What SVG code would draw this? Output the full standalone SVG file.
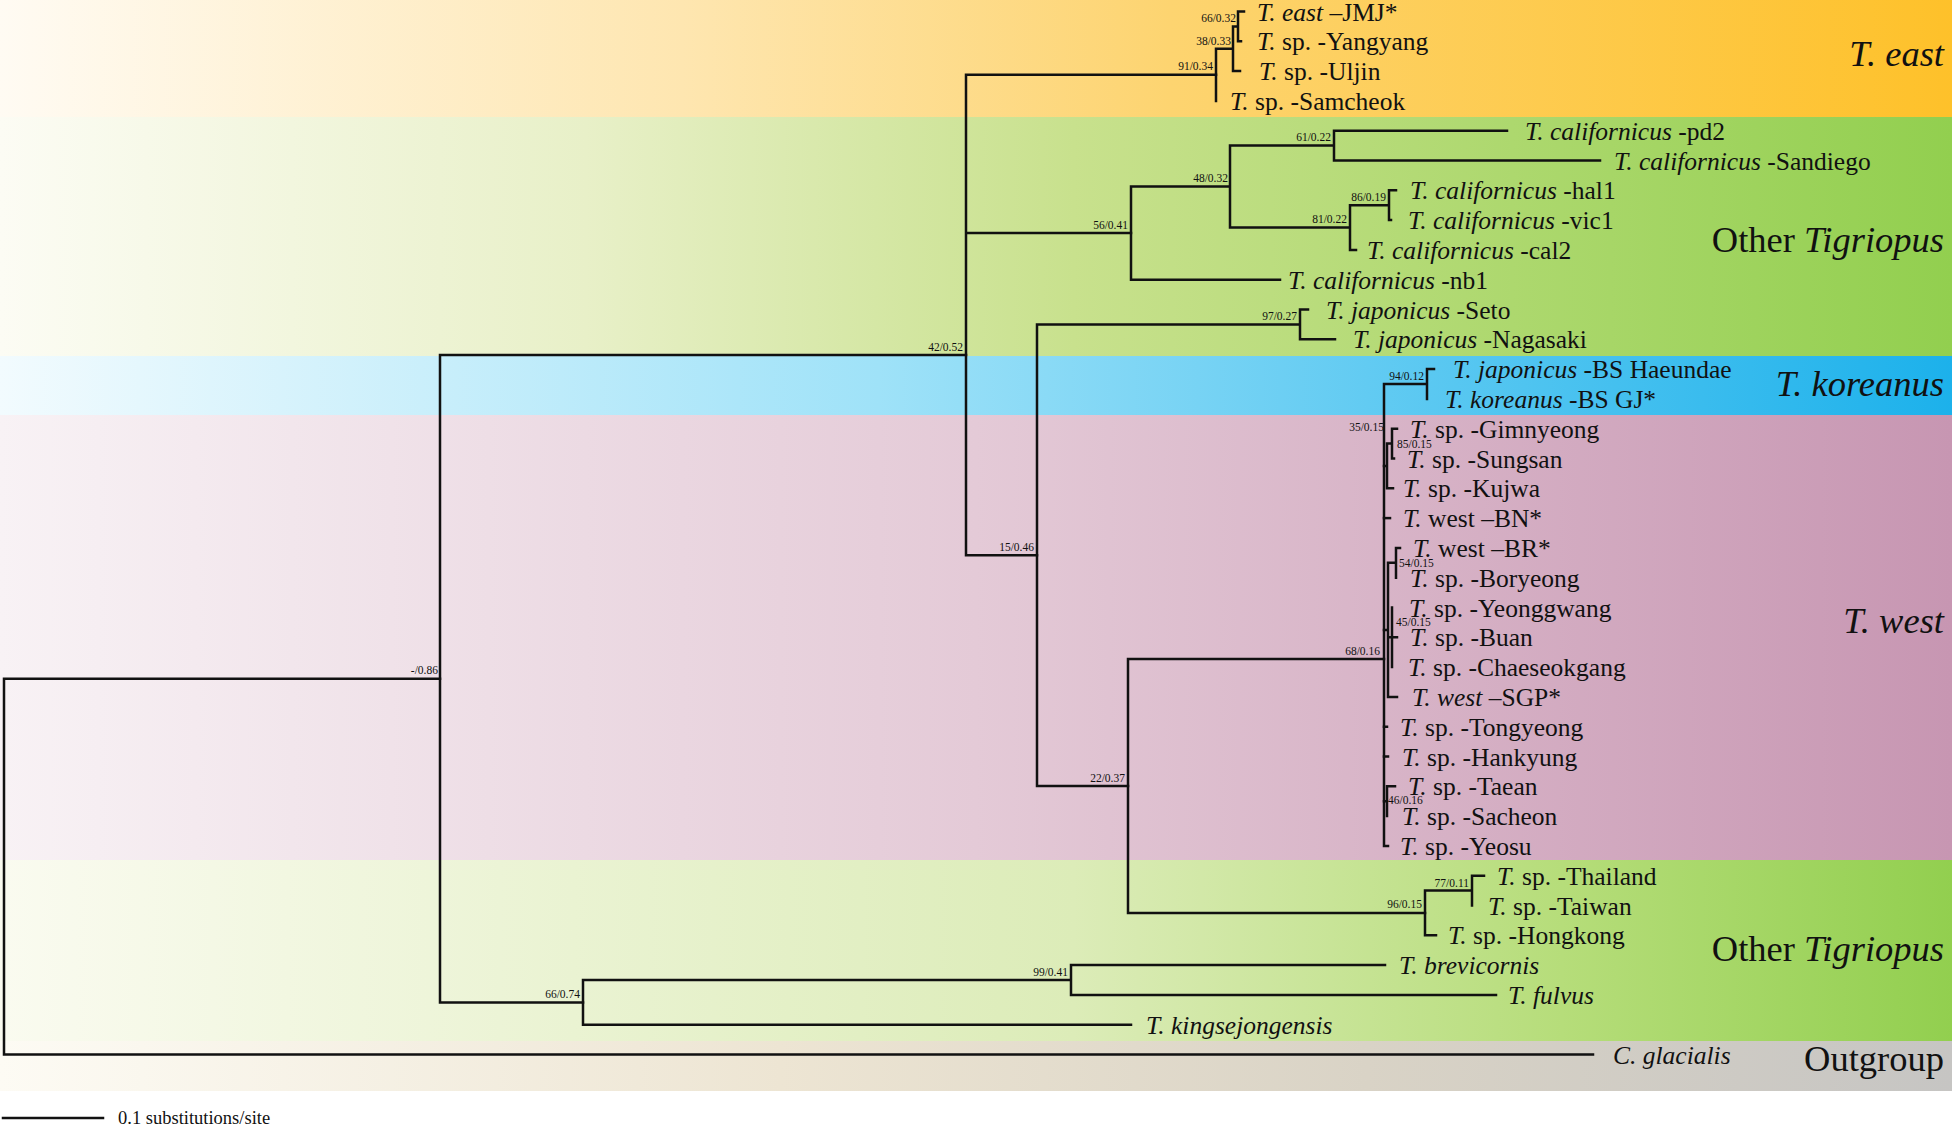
<svg xmlns="http://www.w3.org/2000/svg" width="1955" height="1128" viewBox="0 0 1955 1128">
<style>
text{font-family:"Liberation Serif","Times New Roman",serif;fill:#111;}
.lf{font-size:25.5px;}
.it{font-style:italic;}
.sp{font-size:11.5px;}
.bd{font-size:36.5px;text-anchor:end;}
.br{fill:none;stroke:#111;stroke-width:2.5;stroke-linecap:square;}
</style>
<defs>
<linearGradient id="gOr" x1="0" y1="0" x2="1" y2="0">
<stop offset="0" stop-color="#fffbf3"/><stop offset="0.35" stop-color="#fee6b0"/><stop offset="0.6" stop-color="#fdd470"/><stop offset="1" stop-color="#fec12a"/>
</linearGradient>
<linearGradient id="gGr" x1="0" y1="0" x2="1" y2="0">
<stop offset="0" stop-color="#fcfcf4"/><stop offset="0.3" stop-color="#e8f0c8"/><stop offset="0.55" stop-color="#c8e18d"/><stop offset="1" stop-color="#92cf4f"/>
</linearGradient>
<linearGradient id="gBl" x1="0" y1="0" x2="1" y2="0">
<stop offset="0" stop-color="#f2fbfe"/><stop offset="0.45" stop-color="#9fe2f8"/><stop offset="0.7" stop-color="#62cbf2"/><stop offset="1" stop-color="#1cb1eb"/>
</linearGradient>
<linearGradient id="gPk" x1="0" y1="0" x2="1" y2="0">
<stop offset="0" stop-color="#f8f2f5"/><stop offset="0.5" stop-color="#e4cad7"/><stop offset="1" stop-color="#c796b2"/>
</linearGradient>
<linearGradient id="gGr2" x1="0" y1="0" x2="1" y2="0">
<stop offset="0" stop-color="#fafbf0"/><stop offset="0.55" stop-color="#dcecb8"/><stop offset="0.8" stop-color="#b6dd7a"/><stop offset="1" stop-color="#92cf4f"/>
</linearGradient>
<linearGradient id="gGy" x1="0" y1="0" x2="1" y2="0">
<stop offset="0" stop-color="#fdfbf4"/><stop offset="0.4" stop-color="#ede5d3"/><stop offset="0.7" stop-color="#d9d3c6"/><stop offset="1" stop-color="#c6c5c3"/>
</linearGradient>
</defs>
<rect width="1955" height="1128" fill="#ffffff"/>
<g id="bands">
<rect x="0" y="0" width="1952" height="117" fill="url(#gOr)"/>
<rect x="0" y="117" width="1952" height="239" fill="url(#gGr)"/>
<rect x="0" y="356" width="1952" height="59" fill="url(#gBl)"/>
<rect x="0" y="415" width="1952" height="445" fill="url(#gPk)"/>
<rect x="0" y="860" width="1952" height="181" fill="url(#gGr2)"/>
<rect x="0" y="1041" width="1952" height="50" fill="url(#gGy)"/>
</g>
<g id="connectors" class="br">
<path d="M4,678.7 V1054.5 H1593 M4,678.7 H440"/>
<path d="M440,355 V1002.4 M440,355 H966 M440,1002.4 H583"/>
<path d="M583,980 V1024.7 H1131 M583,980 H1071 M1071,965.1 V994.9 M1071,965.1 H1385 M1071,994.9 H1496"/>
<path d="M966,74.8 V555.2 M966,74.8 H1216 M966,233.1 H1131 M966,555.2 H1037"/>
<path d="M1216,48.8 V100.9 M1216,48.8 H1233 M1233,26.4 V71.1 H1240 M1233,26.4 H1238 M1238,11.5 V41.3 M1238,11.5 H1244 M1238,41.3 H1241"/>
<path d="M1131,186.6 V279.7 H1280 M1131,186.6 H1230 M1230,145.6 V227.5 M1230,145.6 H1334 M1230,227.5 H1350 M1334,130.7 V160.5 M1334,130.7 H1507 M1334,160.5 H1600 M1350,205.2 V249.9 H1356 M1350,205.2 H1389 M1389,190.3 V220.1 M1389,190.3 H1396 M1389,220.1 H1391"/>
<path d="M1037,324.4 V786 M1037,324.4 H1300 M1037,786 H1128 M1300,309.5 V339.3 M1300,309.5 H1308 M1300,339.3 H1335"/>
<path d="M1128,659 V913 M1128,659 H1384 M1128,913 H1425"/>
<path d="M1425,890.6 V935.3 H1436 M1425,890.6 H1472 M1472,875.7 V905.5 M1472,875.7 H1484"/>
<path d="M1384,384 V845.9 H1388 M1384,384 H1427 M1427,369.1 V398.9 M1427,369.1 H1434"/>
<path d="M1384,466 H1387 M1387,443.6 V488.3 H1393 M1387,443.6 H1392 M1392,428.7 V458.5 M1392,428.7 H1397 M1392,458.5 H1394"/>
<path d="M1384,518.1 H1390"/>
<path d="M1384,630 H1388 M1388,562.8 V696.9 H1397 M1388,562.8 H1396 M1396,547.9 V577.7 M1396,547.9 H1400 M1388,637.3 H1392 M1392,607.5 V667.1 M1392,637.3 H1397"/>
<path d="M1384,726.7 H1387 M1384,756.5 H1388 M1384,801.2 H1387 M1387,786.3 V816.1 M1387,786.3 H1395"/>
<path d="M3,1118 H103"/>
</g>
<g id="support-values" class="sp">
<g id="s-86"><text x="438" y="674" text-anchor="end">-/0.86</text></g>
<g id="s-42"><text x="963" y="351" text-anchor="end">42/0.52</text></g>
<g id="s-66a"><text x="580" y="998" text-anchor="end">66/0.74</text></g>
<g id="s-99"><text x="1068" y="976" text-anchor="end">99/0.41</text></g>
<g id="s-91"><text x="1213" y="70" text-anchor="end">91/0.34</text></g>
<g id="s-38"><text x="1231" y="45" text-anchor="end">38/0.33</text></g>
<g id="s-66b"><text x="1236" y="22" text-anchor="end">66/0.32</text></g>
<g id="s-56"><text x="1128" y="229" text-anchor="end">56/0.41</text></g>
<g id="s-48"><text x="1228" y="182" text-anchor="end">48/0.32</text></g>
<g id="s-61"><text x="1331" y="141" text-anchor="end">61/0.22</text></g>
<g id="s-81"><text x="1347" y="223" text-anchor="end">81/0.22</text></g>
<g id="s-86b"><text x="1386" y="201" text-anchor="end">86/0.19</text></g>
<g id="s-97"><text x="1297" y="320" text-anchor="end">97/0.27</text></g>
<g id="s-15"><text x="1034" y="551" text-anchor="end">15/0.46</text></g>
<g id="s-22"><text x="1125" y="782" text-anchor="end">22/0.37</text></g>
<g id="s-94"><text x="1424" y="380" text-anchor="end">94/0.12</text></g>
<g id="s-35"><text x="1384" y="431" text-anchor="end">35/0.15</text></g>
<g id="s-85"><text x="1397" y="448">85/0.15</text></g>
<g id="s-54"><text x="1399" y="567">54/0.15</text></g>
<g id="s-45"><text x="1396" y="626">45/0.15</text></g>
<g id="s-68"><text x="1380" y="655" text-anchor="end">68/0.16</text></g>
<g id="s-46"><text x="1388" y="804">46/0.16</text></g>
<g id="s-96"><text x="1422" y="908" text-anchor="end">96/0.15</text></g>
<g id="s-77"><text x="1469" y="887" text-anchor="end">77/0.11</text></g>
</g>
<g id="leaves" class="lf">
<g id="l-jmj"><text x="1257" y="20.5"><tspan class="it">T. east</tspan> –JMJ*</text></g>
<g id="l-yangyang"><text x="1257" y="50.3"><tspan class="it">T.</tspan> sp. -Yangyang</text></g>
<g id="l-uljin"><text x="1259" y="80.1"><tspan class="it">T.</tspan> sp. -Uljin</text></g>
<g id="l-samcheok"><text x="1230" y="109.9"><tspan class="it">T.</tspan> sp. -Samcheok</text></g>
<g id="l-pd2"><text x="1525" y="139.7"><tspan class="it">T. californicus</tspan> -pd2</text></g>
<g id="l-sandiego"><text x="1614" y="169.5"><tspan class="it">T. californicus</tspan> -Sandiego</text></g>
<g id="l-hal1"><text x="1410" y="199.3"><tspan class="it">T. californicus</tspan> -hal1</text></g>
<g id="l-vic1"><text x="1408" y="229.1"><tspan class="it">T. californicus</tspan> -vic1</text></g>
<g id="l-cal2"><text x="1367" y="258.9"><tspan class="it">T. californicus</tspan> -cal2</text></g>
<g id="l-nb1"><text x="1288" y="288.7"><tspan class="it">T. californicus</tspan> -nb1</text></g>
<g id="l-seto"><text x="1326" y="318.5"><tspan class="it">T. japonicus</tspan> -Seto</text></g>
<g id="l-nagasaki"><text x="1353" y="348.3"><tspan class="it">T. japonicus</tspan> -Nagasaki</text></g>
<g id="l-haeundae"><text x="1453" y="378.1"><tspan class="it">T. japonicus</tspan> -BS Haeundae</text></g>
<g id="l-gj"><text x="1445" y="407.9"><tspan class="it">T. koreanus</tspan> -BS GJ*</text></g>
<g id="l-gimnyeong"><text x="1410" y="437.7"><tspan class="it">T.</tspan> sp. -Gimnyeong</text></g>
<g id="l-sungsan"><text x="1407" y="467.5"><tspan class="it">T.</tspan> sp. -Sungsan</text></g>
<g id="l-kujwa"><text x="1403" y="497.3"><tspan class="it">T.</tspan> sp. -Kujwa</text></g>
<g id="l-bn"><text x="1403" y="527.1"><tspan class="it">T.</tspan> west –BN*</text></g>
<g id="l-br"><text x="1413" y="556.9"><tspan class="it">T.</tspan> west –BR*</text></g>
<g id="l-boryeong"><text x="1410" y="586.7"><tspan class="it">T.</tspan> sp. -Boryeong</text></g>
<g id="l-yeonggwang"><text x="1409" y="616.5"><tspan class="it">T.</tspan> sp. -Yeonggwang</text></g>
<g id="l-buan"><text x="1410" y="646.3"><tspan class="it">T.</tspan> sp. -Buan</text></g>
<g id="l-chaeseokgang"><text x="1408" y="676.1"><tspan class="it">T.</tspan> sp. -Chaeseokgang</text></g>
<g id="l-sgp"><text x="1412" y="705.9"><tspan class="it">T. west</tspan> –SGP*</text></g>
<g id="l-tongyeong"><text x="1400" y="735.7"><tspan class="it">T.</tspan> sp. -Tongyeong</text></g>
<g id="l-hankyung"><text x="1402" y="765.5"><tspan class="it">T.</tspan> sp. -Hankyung</text></g>
<g id="l-taean"><text x="1408" y="795.3"><tspan class="it">T.</tspan> sp. -Taean</text></g>
<g id="l-sacheon"><text x="1402" y="825.1"><tspan class="it">T.</tspan> sp. -Sacheon</text></g>
<g id="l-yeosu"><text x="1400" y="854.9"><tspan class="it">T.</tspan> sp. -Yeosu</text></g>
<g id="l-thailand"><text x="1497" y="884.7"><tspan class="it">T.</tspan> sp. -Thailand</text></g>
<g id="l-taiwan"><text x="1488" y="914.5"><tspan class="it">T.</tspan> sp. -Taiwan</text></g>
<g id="l-hongkong"><text x="1448" y="944.3"><tspan class="it">T.</tspan> sp. -Hongkong</text></g>
<g id="l-brevicornis"><text x="1399" y="974.1" class="it">T. brevicornis</text></g>
<g id="l-fulvus"><text x="1508" y="1003.9" class="it">T. fulvus</text></g>
<g id="l-kingsejongensis"><text x="1146" y="1033.7" class="it">T. kingsejongensis</text></g>
<g id="l-glacialis"><text x="1613" y="1063.5" class="it">C. glacialis</text></g>
</g>
<g id="band-labels">
<g id="b-east"><text x="1944" y="66" class="bd it">T. east</text></g>
<g id="b-other1"><text x="1944" y="252" class="bd">Other <tspan class="it">Tigriopus</tspan></text></g>
<g id="b-koreanus"><text x="1944" y="396" class="bd it">T. koreanus</text></g>
<g id="b-west"><text x="1944" y="633" class="bd it">T. west</text></g>
<g id="b-other2"><text x="1944" y="961" class="bd">Other <tspan class="it">Tigriopus</tspan></text></g>
<g id="b-outgroup"><text x="1944" y="1071" class="bd">Outgroup</text></g>
</g>
<g id="scale"><text x="118" y="1124" style="font-size:18.5px">0.1 substitutions/site</text></g>
</svg>
